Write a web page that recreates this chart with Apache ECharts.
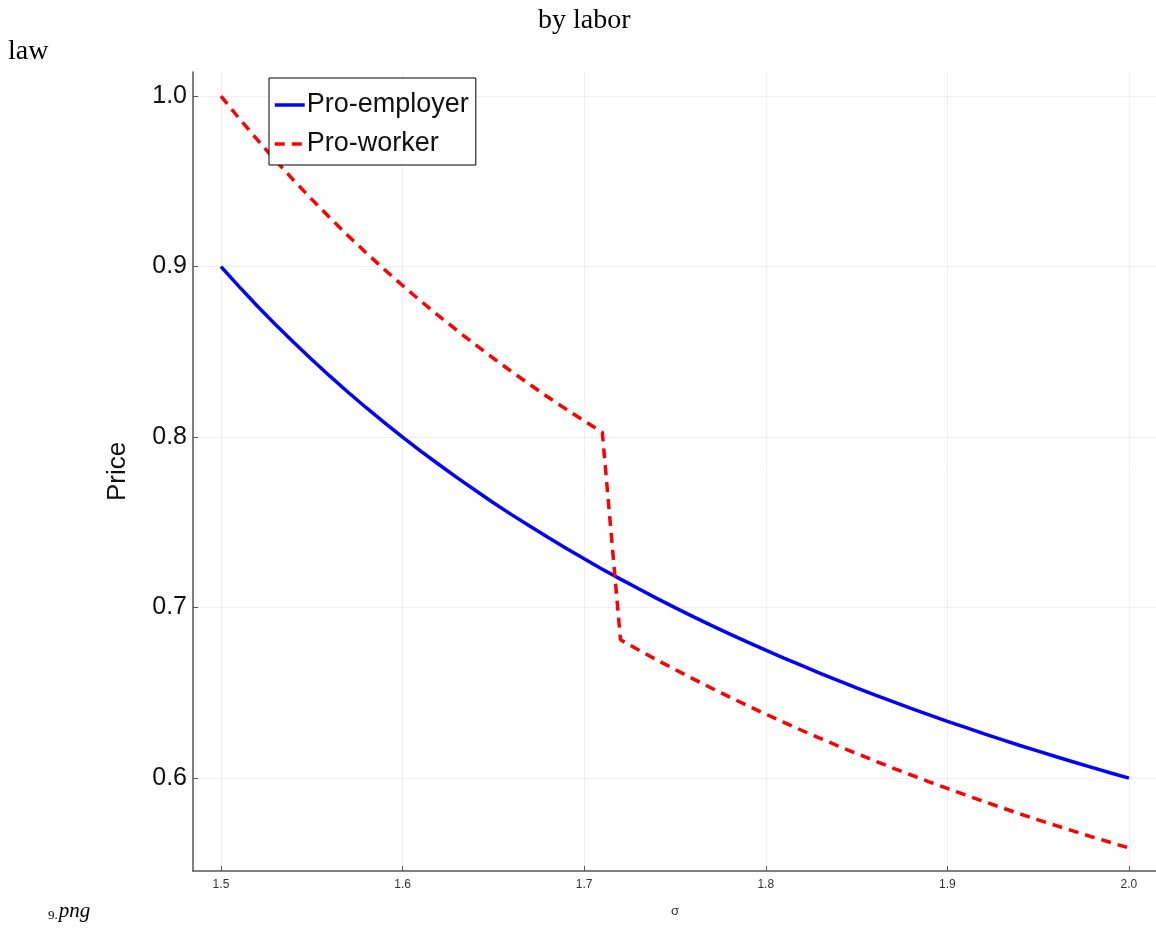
<!DOCTYPE html>
<html>
<head>
<meta charset="utf-8">
<title>Price by labor law</title>
<script src="https://cdn.jsdelivr.net/npm/echarts@6/dist/echarts.min.js"></script>
<style>
  html, body { margin: 0; padding: 0; background: #ffffff; }
  #chart { width: 1156px; height: 928px; }
</style>
</head>
<body>
<div id="chart"></div>
<script>
// Elasticity of substitution (sigma) grid
const sigma = [
  1.50, 1.51, 1.52, 1.53, 1.54, 1.55, 1.56, 1.57, 1.58, 1.59,
  1.60, 1.61, 1.62, 1.63, 1.64, 1.65, 1.66, 1.67, 1.68, 1.69,
  1.70, 1.71, 1.72, 1.73, 1.74, 1.75, 1.76, 1.77, 1.78, 1.79,
  1.80, 1.81, 1.82, 1.83, 1.84, 1.85, 1.86, 1.87, 1.88, 1.89,
  1.90, 1.91, 1.92, 1.93, 1.94, 1.95, 1.96, 1.97, 1.98, 1.99, 2.00
];

// Price under a pro-employer labor law
const proEmployer = [
  0.9000, 0.8882, 0.8769, 0.8660, 0.8556, 0.8455, 0.8357, 0.8263, 0.8172, 0.8085,
  0.8000, 0.7918, 0.7839, 0.7762, 0.7688, 0.7615, 0.7545, 0.7478, 0.7412, 0.7348,
  0.7286, 0.7225, 0.7167, 0.7110, 0.7054, 0.7000, 0.6947, 0.6896, 0.6846, 0.6797,
  0.6750, 0.6704, 0.6659, 0.6614, 0.6571, 0.6529, 0.6488, 0.6448, 0.6409, 0.6371,
  0.6333, 0.6297, 0.6261, 0.6226, 0.6191, 0.6158, 0.6125, 0.6093, 0.6061, 0.6030, 0.6000
];

// Price under a pro-worker labor law
const proWorker = [
  1.0000, 0.9869, 0.9744, 0.9623, 0.9506, 0.9394, 0.9286, 0.9181, 0.9080, 0.8983,
  0.8889, 0.8798, 0.8710, 0.8625, 0.8542, 0.8462, 0.8384, 0.8309, 0.8235, 0.8164,
  0.8095, 0.8028, 0.6811, 0.6751, 0.6693, 0.6637, 0.6582, 0.6528, 0.6476, 0.6425,
  0.6375, 0.6327, 0.6279, 0.6233, 0.6188, 0.6144, 0.6101, 0.6059, 0.6018, 0.5978,
  0.5939, 0.5901, 0.5863, 0.5826, 0.5790, 0.5755, 0.5721, 0.5687, 0.5654, 0.5622, 0.5590
];

const xTicks = [1.5, 1.6, 1.7, 1.8, 1.9, 2.0];
const yTicks = [0.6, 0.7, 0.8, 0.9, 1.0];
const seriesNames = ['Pro-employer', 'Pro-worker'];

const toPairs = (xs, ys) => xs.map((x, i) => [x, ys[i]]);

const chart = echarts.init(document.getElementById('chart'), null, { renderer: 'canvas' });

const axisGray = '#555555';
const gridGray = 'rgba(0,0,0,0.06)';
const serif = '"Liberation Serif", "DejaVu Serif", serif';
const sans = '"Liberation Sans", Arial, Helvetica, sans-serif';

chart.setOption({
  animation: false,
  backgroundColor: '#ffffff',
  grid: { left: 193, right: 0, top: 72, bottom: 57, containLabel: false },
  xAxis: {
    type: 'value',
    min: 1.4846,
    max: 2.0149,
    axisLine: { show: true, onZero: false, lineStyle: { color: axisGray, width: 1.5 } },
    axisTick: { show: true, inside: true, length: 5, customValues: xTicks, lineStyle: { color: axisGray, width: 1 } },
    axisLabel: {
      customValues: xTicks,
      formatter: v => v.toFixed(1),
      color: '#333333', fontFamily: sans, fontSize: 12, margin: 8
    },
    splitLine: { show: true, lineStyle: { color: gridGray, width: 1 } }
  },
  yAxis: {
    type: 'value',
    min: 0.5455,
    max: 1.0141,
    axisLine: { show: true, onZero: false, lineStyle: { color: axisGray, width: 1.5 } },
    axisTick: { show: true, inside: true, length: 5, customValues: yTicks, lineStyle: { color: axisGray, width: 1 } },
    axisLabel: {
      customValues: yTicks,
      formatter: v => v.toFixed(1),
      color: '#111111', fontFamily: sans, fontSize: 25, margin: 6
    },
    splitLine: { show: true, lineStyle: { color: gridGray, width: 1 } },
    name: 'Price',
    nameLocation: 'middle',
    nameGap: 62,
    nameRotate: 90,
    nameTextStyle: { color: '#111111', fontFamily: sans, fontSize: 26 }
  },
  legend: {
    show: true,
    left: 269,
    top: 78,
    orient: 'vertical',
    data: seriesNames,
    itemWidth: 30,
    itemHeight: 14,
    itemGap: 11,
    padding: [13, 7, 7, 4],
    backgroundColor: '#ffffff',
    borderColor: '#000000',
    borderWidth: 1,
    borderRadius: 0,
    // line-only keys: hide the marker that line series add to the key
    itemStyle: { color: 'transparent', borderWidth: 0, opacity: 0 },
    lineStyle: { width: 3.5 },
    textStyle: { color: '#111111', fontFamily: sans, fontSize: 27, lineHeight: 28, padding: [0, 0, 0, -3] }
  },
  graphic: [
    { type: 'text', left: 538, top: 7, style: { text: 'by labor', font: '28px ' + serif, fill: '#000000' } },
    { type: 'text', left: 8, top: 38, style: { text: 'law', font: '28px ' + serif, fill: '#000000' } },
    {
      type: 'text', left: 48, top: 901,
      style: {
        text: '{s|9.}{i|png}',
        rich: {
          s: { fontFamily: serif, fontSize: 13, fill: '#000000', padding: [9, 1, 0, 0] },
          i: { fontFamily: serif, fontSize: 21, fontStyle: 'italic', fill: '#000000' }
        }
      }
    },
    { type: 'text', left: 671, top: 905, style: { text: 'σ', font: '13px ' + sans, fill: '#333333' } }
  ],
  series: [
    {
      name: seriesNames[0],
      type: 'line',
      data: toPairs(sigma, proEmployer),
      showSymbol: false,
      symbol: 'none',
      smooth: false,
      lineStyle: { color: '#0000ff', width: 3.5 },
      itemStyle: { color: '#0000ff' }
    },
    {
      name: seriesNames[1],
      type: 'line',
      data: toPairs(sigma, proWorker),
      showSymbol: false,
      symbol: 'none',
      smooth: false,
      lineStyle: { color: '#ff0000', width: 3.5, type: [10, 7] },
      itemStyle: { color: '#ff0000' }
    }
  ]
});
</script>
</body>
</html>
